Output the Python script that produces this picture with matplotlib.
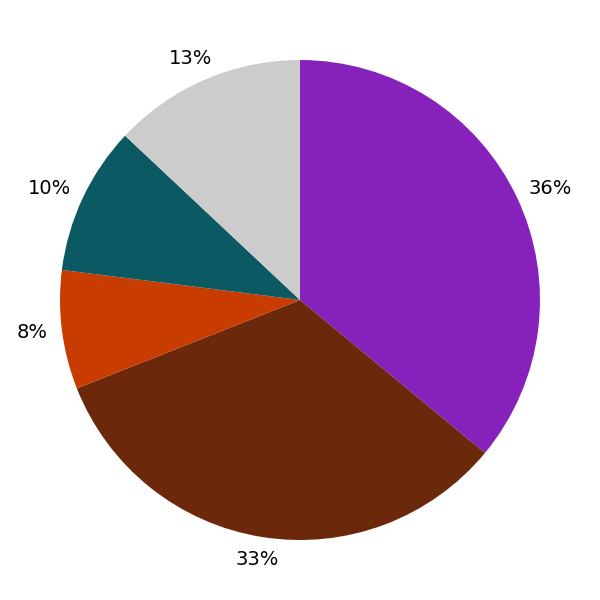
import matplotlib
matplotlib.use("Agg")
import matplotlib.pyplot as plt
import numpy as np

shares = [36, 33, 8, 10, 13]
colors = ["#8622BB", "#6B280A", "#C83C00", "#0B5963", "#CCCCCC"]

fig = plt.figure(figsize=(6, 6), dpi=100)
ax = fig.add_axes([0, 0, 1, 1])

wedges, _, pcts = ax.pie(
    shares,
    colors=colors,
    startangle=90,
    counterclock=False,
    autopct="%d%%",
    pctdistance=1.1,
    textprops={"fontsize": 14, "color": "black"},
)
ax.set_xlim(-1.25, 1.25)
ax.set_ylim(-1.25, 1.25)
ax.set_aspect("equal")
ax.axis("off")

# push each label outward so its box just touches a ring round the pie
fig.canvas.draw()
renderer = fig.canvas.get_renderer()
px = 2.5 / 600  # data units per pixel
for w, t in zip(wedges, pcts):
    ang = np.deg2rad((w.theta1 + w.theta2) / 2)
    bb = t.get_window_extent(renderer)
    hw = bb.width / 2 * px
    hh = 8 * px
    r = 1.0625
    t.set_position((r * np.cos(ang) + hw * np.cos(ang),
                    r * np.sin(ang) + hh * np.sin(ang)))
    t.set_ha("center")
    t.set_va("center")

fig.savefig("out.png", dpi=100)
